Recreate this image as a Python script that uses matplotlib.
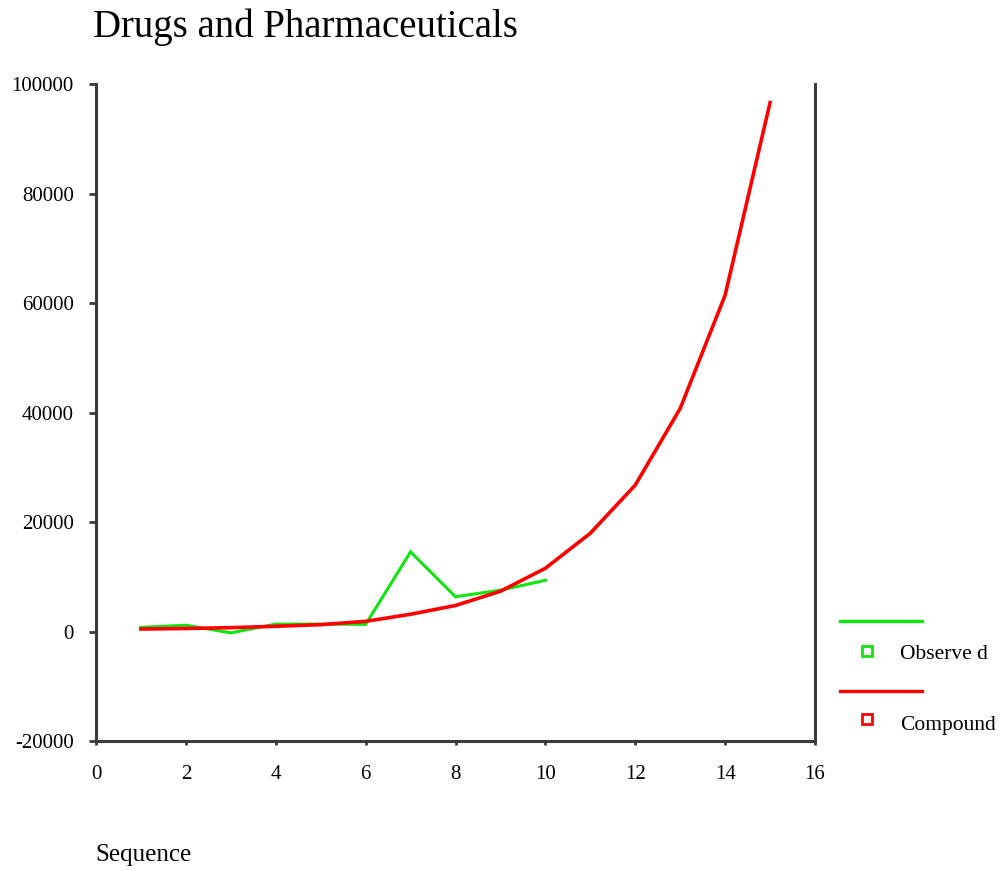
import numpy as np
import matplotlib.pyplot as plt
from matplotlib.lines import Line2D

# Sequence values and the two series
seq_observed = [1, 2, 3, 4, 5, 6, 7, 8, 9, 10]
observed = [800, 1200, -200, 1400, 1400, 1350, 14600, 6400, 7600, 9400]

seq_compound = [1, 2, 3, 4, 5, 6, 7, 8, 9, 10, 11, 12, 13, 14, 15]
compound = [500, 600, 750, 1000, 1300, 1900, 3200, 4800, 7400, 11600,
            18000, 26800, 40800, 61500, 96700]

x_ticks = [0, 2, 4, 6, 8, 10, 12, 14, 16]
y_ticks = [-20000, 0, 20000, 40000, 60000, 80000, 100000]

plt.rcParams['font.family'] = ['Liberation Serif', 'DejaVu Serif']

fig = plt.figure(figsize=(10, 8.71), dpi=100)
ax = fig.add_axes([0.096, 0.149, 0.719, 0.754])

green = '#0ee60e'
red = '#ff0000'

ax.plot(seq_observed, observed, color=green, lw=2.2, solid_joinstyle='miter')
ax.plot(seq_compound, compound, color=red, lw=2.6)

ax.set_xlim(0, 16)
ax.set_ylim(-20000, 100000)
ax.set_xticks(x_ticks)
ax.set_yticks(y_ticks)
ax.set_yticklabels([str(v) for v in y_ticks])

for side in ['left', 'right', 'bottom']:
    ax.spines[side].set_color('#3c3c3c')
    ax.spines[side].set_linewidth(2.2)
ax.spines['top'].set_visible(False)

ax.tick_params(axis='y', length=5, width=2, color='#3c3c3c', pad=11, labelsize=15)
ax.tick_params(axis='x', length=3, width=2, color='#3c3c3c', pad=14, labelsize=15)

# title and axis caption
fig.text(0.093, 0.9575, 'Drugs and Pharmaceuticals', fontsize=28, va='baseline')
fig.text(0.095, 0.018, 'Sequence', fontsize=18, va='center')

# legend: line on one row, marker and name on the next
fig.add_artist(Line2D([0.840, 0.922], [0.2874, 0.2874], color=green, lw=2.4))
fig.add_artist(Line2D([0.8667], [0.2526], marker='s', ms=7, mfc='white', mec=green, mew=2))
fig.text(0.900, 0.248, 'Observe d', fontsize=15.5, va='center')

fig.add_artist(Line2D([0.840, 0.922], [0.2070, 0.2070], color=red, lw=2.4))
fig.add_artist(Line2D([0.8667], [0.1745], marker='s', ms=7, mfc='white', mec=red, mew=2))
fig.text(0.900, 0.1676, 'Compound', fontsize=15.5, va='center')

fig.savefig('out.png', dpi=100)
